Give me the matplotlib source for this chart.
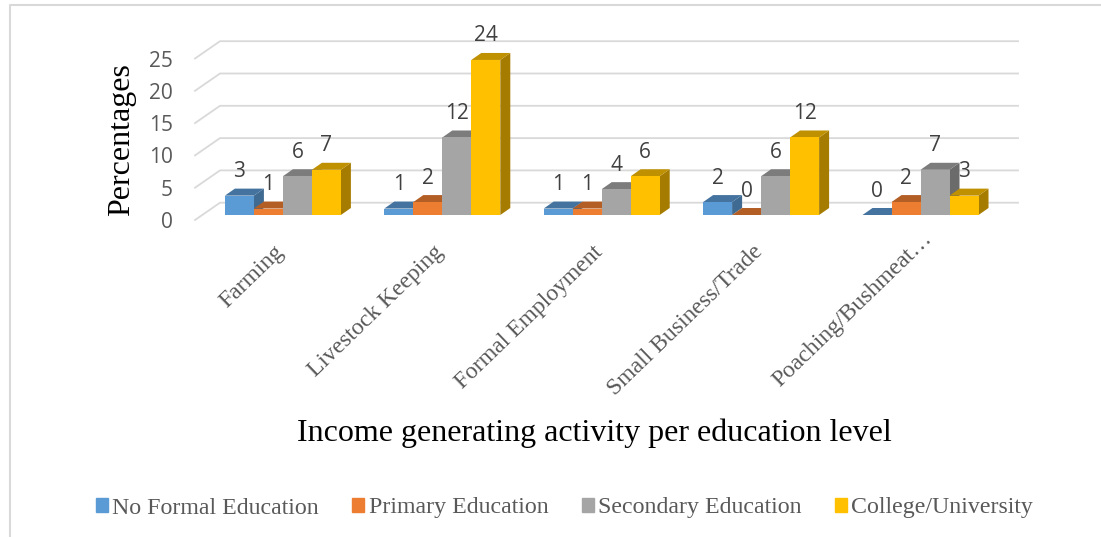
import matplotlib
matplotlib.use('Agg')
import matplotlib.pyplot as plt
from matplotlib.patches import Patch
from matplotlib.transforms import ScaledTranslation

# Datos
actividades = ['Farming', 'Livestock Keeping', 'Formal Employment',
               'Small Business/Trade', 'Poaching/Bushmeat…']
sin_educacion = [3, 1, 1, 2, 0]
primaria = [1, 2, 1, 0, 2]
secundaria = [6, 12, 4, 6, 7]
universidad = [7, 24, 6, 12, 3]
nombres = ['No Formal Education', 'Primary Education',
           'Secondary Education', 'College/University']
marcas_y = [0, 5, 10, 15, 20, 25]

series = [sin_educacion, primaria, secundaria, universidad]
frente = ['#5B9BD5', '#ED7D31', '#A5A5A5', '#FFC000']
tapa = ['#44739F', '#B25E25', '#7C7C7C', '#BF9000']
lado = ['#3F6A91', '#9C5220', '#6B6B6B', '#A67C00']

ANCHO, ALTO = 1101, 537
PX_X = 159.4  # pixeles por categoria
PX_Y = 6.46   # pixeles por unidad
ancho_barra = 29 / PX_X
dx, dy = 10 / PX_X, 7 / PX_Y

fig = plt.figure(figsize=(ANCHO / 100, ALTO / 100), dpi=100)
izq, der, base = 195, 1018, 215
ax = fig.add_axes([izq / ANCHO, 1 - base / ALTO, (der - izq) / ANCHO, 25 * PX_Y / ALTO])
ax.set_xlim((izq - 282.9) / PX_X, (der - 282.9) / PX_X)
ax.set_ylim(0, 25)
ax.patch.set_visible(False)
for s in ax.spines.values():
    s.set_visible(False)

# Cuadricula en perspectiva
x0, x1 = ax.get_xlim()
for v in marcas_y:
    ax.plot([x0, x0 + 25 / PX_X, x1],
            [v - 5 / PX_Y, v + 12.3 / PX_Y, v + 12.3 / PX_Y],
            color='#D9D9D9', lw=1.3, clip_on=False, zorder=1)

# Barras con caras de arriba y lateral
for j, valores in enumerate(series):
    for i, v in enumerate(valores):
        xc = i + (j - 1.5) * ancho_barra
        xl, xr = xc - ancho_barra / 2, xc + ancho_barra / 2
        z = 2 + j * 0.1
        ax.fill([xr, xr + dx, xr + dx, xr], [0, dy, v + dy, v],
                color=lado[j], lw=0, clip_on=False, zorder=z)
        ax.fill([xl, xl + dx, xr + dx, xr], [v, v + dy, v + dy, v],
                color=tapa[j], lw=0, clip_on=False, zorder=z)
        ax.bar(xc, v, ancho_barra, color=frente[j], clip_on=False, zorder=z)
        ax.text(xc, v + 24 / PX_Y, str(v), ha='center', va='center', fontsize=15,
                family='Open Sans', color='#404040', clip_on=False, zorder=5)

# Ejes
ax.set_xticks(range(len(actividades)), actividades, rotation=44, ha='right',
              rotation_mode='anchor', family='Liberation Serif', fontsize=17,
              color='#595959')
ax.set_yticks(marcas_y, [str(m) for m in marcas_y], family='Open Sans', fontsize=15,
              color='#595959')
ax.tick_params(axis='both', length=0)
ax.tick_params(axis='x', pad=19)
ax.tick_params(axis='y', pad=16)
desplazar = ScaledTranslation(0, -5 / 100, fig.dpi_scale_trans)
for etiqueta in ax.get_yticklabels():
    etiqueta.set_transform(etiqueta.get_transform() + desplazar)
# las etiquetas rotadas terminan un poco a la izquierda de la marca
for k, etiqueta in enumerate(ax.get_xticklabels()):
    if k == len(actividades) - 1:
        mover = ScaledTranslation(1 / 100, 13 / 100, fig.dpi_scale_trans)
    else:
        mover = ScaledTranslation(-9 / 100, 0, fig.dpi_scale_trans)
    etiqueta.set_transform(etiqueta.get_transform() + mover)

fig.text(122 / ANCHO, 1 - 140 / ALTO, 'Percentages', rotation=90, ha='center', va='center',
         family='Liberation Serif', fontsize=23)
fig.text(594 / ANCHO, 1 - 433 / ALTO, 'Income generating activity per education level',
         ha='center', va='center', family='Liberation Serif', fontsize=23)

# Leyenda
fig.legend(handles=[Patch(color=c, label=n) for c, n in zip(frente, nombres)],
           loc='center', bbox_to_anchor=(564.5 / ANCHO, 1 - 508 / ALTO), ncol=4,
           frameon=False, prop={'family': 'Liberation Serif', 'size': 17.2},
           labelcolor='#595959', handlelength=0.5, handleheight=0.5,
           handletextpad=0.18, columnspacing=1.4, borderpad=0, borderaxespad=0)

# Borde del grafico
fig.add_artist(plt.Line2D([10 / ANCHO, 10 / ANCHO, 1], [0, 1 - 5 / ALTO, 1 - 5 / ALTO],
                          color='#D9D9D9', lw=1.5))

fig.savefig('out.png', dpi=100)
plt.close(fig)
